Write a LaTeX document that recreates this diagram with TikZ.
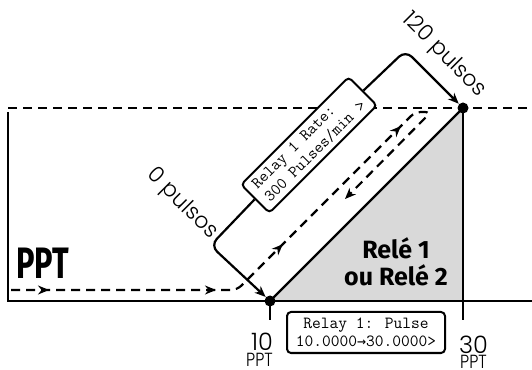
\documentclass[tikz,border=0pt]{standalone}
\usepackage{fontspec}
\usepackage{tikz}
\usetikzlibrary{arrows.meta, calc, positioning, decorations.markings}
\setmainfont{Poppins}
\newfontfamily\thinfont{Poppins}[UprightFont={* Light}]
\newfontfamily\heavyfont{Fira Sans}
\newfontfamily\arrowfont{DejaVu Sans Mono}

\tikzset{
  lcd/.style={draw, line width=2pt, rounded corners=4pt, fill=white, inner sep=0pt},
  flow/.style={line width=2.2pt, dash pattern=on 9pt off 6pt},
  bracket/.style={line width=2.2pt, rounded corners=9pt, shorten >=6pt,
    -{Stealth[length=11pt, width=9pt]}},
  thinlabel/.style={inner sep=0pt, font=\thinfont\fontsize{24}{26}\selectfont},
  unitlabel/.style={inner sep=0pt, xscale=0.85, font=\thinfont\fontsize{19}{21}\selectfont},
  flowtip/.style={decoration={markings,
      mark=at position 38pt with {\arrow{Stealth[length=11pt, width=9pt]}},
      mark=at position 205pt with {\arrow{Stealth[length=11pt, width=9pt]}},
      mark=at position 290pt with {\arrow{Stealth[length=11pt, width=9pt]}},
      mark=at position 457pt with {\arrow{Stealth[length=11pt, width=9pt]}}},
    postaction={decorate}},
}

\begin{document}
\begin{tikzpicture}[x=1pt, y=1pt]
  \useasboundingbox (0,0) rectangle (532,369);

  % Set points
  \coordinate (A) at (270,68);
  \coordinate (B) at (463,261);
  \coordinate (C) at (463,68);
  \coordinate (Atick) at (270,49);
  \coordinate (Btick) at (463,49);

  % Relay zone
  \fill[black!15] (A) -- (B) -- (C) -- cycle;

  % Axes
  \draw[line width=2.2pt] (8,257) -- (8,68) -- (532,68);
  \draw[flow] (8,261) -- (532,261);
  \draw[line width=2.2pt] (A) -- (B);
  \draw[line width=2.2pt] (B) -- (Btick);
  \draw[line width=2.2pt] (A) -- (Atick);

  % Reading path
  \draw[flow, flowtip, rounded corners=6pt, -{Stealth[length=11pt, width=9pt]}]
    (11,79) -- (237,79) -- (415,257) -- (431,257) -- (345,170);

  % Pulse rate display
  \node[lcd, rotate=45, minimum width=152pt, minimum height=40pt, align=left,
    font=\ttfamily\fontsize{16.5}{18}\selectfont] (rate) at (309,224)
    {Relay 1 Rate:\\300 Pulses/min >};
  \coordinate (lowc) at (210.5,123.5);
  \coordinate (upc) at (405.5,318.5);
  \draw[bracket] (rate.west) -- (lowc) -- (A);
  \draw[bracket] (rate.east) -- (upc) -- (B);
  \node[thinlabel, font=\thinfont\fontsize{22}{24}\selectfont, rotate=-45] (zero) at (182,165) {0 pulsos};
  \node[thinlabel, font=\thinfont\fontsize{22}{24}\selectfont, rotate=-45] (full) at (444,314) {120 pulsos};

  % Pulse setting display
  \node[lcd, minimum width=158pt, minimum height=41pt, align=center,
    font=\ttfamily\fontsize{17}{18}\selectfont] (pulse) at (366,36.5)
    {Relay 1: Pulse\\10.0000{\arrowfont\fontsize{15}{18}\selectfont →}30.0000>};

  % Set point dots
  \fill (A) circle (5.5pt);
  \fill (B) circle (5.5pt);

  % Labels
  \node[thinlabel, anchor=base east] (lo) at (273,18) {10};
  \node[unitlabel, anchor=base east] (lounit) at (273,2) {PPT};
  \node[thinlabel, anchor=base west] (hi) at (459,16) {30};
  \node[unitlabel, anchor=base west] (hiunit) at (460,1) {PPT};
  \node[inner sep=0pt, xscale=0.7, font=\heavyfont\bfseries\fontsize{44}{46}\selectfont] (unit) at (42.5,105.5) {PPT};
  \node[inner sep=0pt, align=center, font=\heavyfont\bfseries\fontsize{25}{27}\selectfont] (relay) at (396,107.5) {Relé 1\\ou Relé 2};
\end{tikzpicture}
\end{document}
